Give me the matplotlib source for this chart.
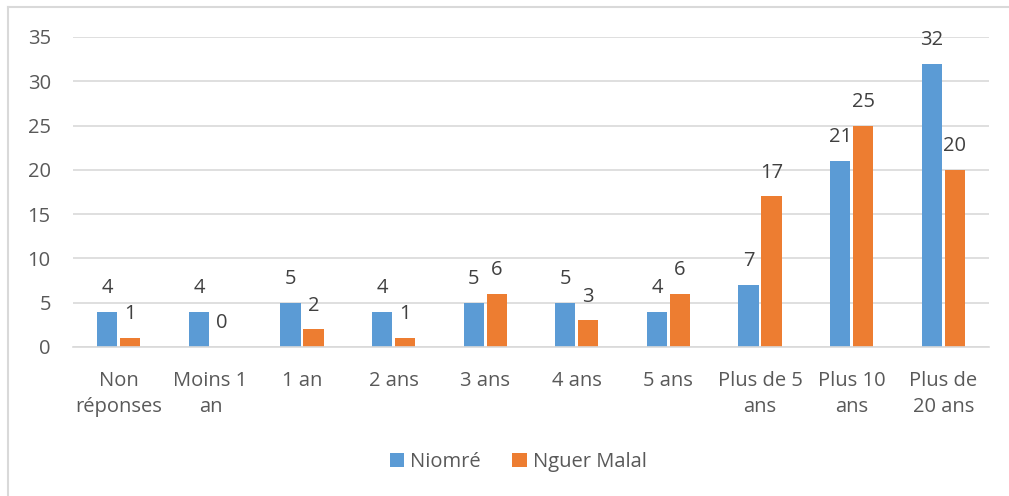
import numpy as np
import matplotlib.pyplot as plt
from matplotlib.lines import Line2D

categories = ["Non\nréponses", "Moins 1\nan", "1 an", "2 ans", "3 ans", "4 ans",
              "5 ans", "Plus de 5\nans", "Plus 10\nans", "Plus de\n20 ans"]
niomre = [4, 4, 5, 4, 5, 5, 4, 7, 21, 32]
nguer_malal = [1, 0, 2, 1, 6, 3, 6, 17, 25, 20]

blue = "#5B9BD5"
orange = "#ED7D31"
txt = "#595959"
grid = "#D9D9D9"
fs = 14.5

plt.rcParams['font.family'] = ['Open Sans', 'DejaVu Sans']

fig = plt.figure(figsize=(10.09, 4.96), dpi=100)
ax = fig.add_axes([73 / 1009, 1 - 347 / 496, (989 - 73) / 1009, (347 - 37) / 496])

x = np.arange(len(categories))
w = 0.22
b1 = ax.bar(x - 0.125, niomre, w, color=blue)
b2 = ax.bar(x + 0.125, nguer_malal, w, color=orange)

for bars, vals in ((b1, niomre), (b2, nguer_malal)):
    for r, v in zip(bars, vals):
        ax.text(r.get_x() + r.get_width() / 2, v + 1.55, str(v), ha='center', va='bottom',
                fontsize=fs, color="#404040")

ax.set_xlim(-0.5, len(categories) - 0.5)
ax.set_ylim(0, 35)
ax.set_yticks(range(0, 36, 5))
ax.set_xticks(x)
ax.set_xticklabels(categories, linespacing=1.4)
ax.tick_params(length=0, labelsize=fs, labelcolor=txt)
ax.tick_params(axis='x', pad=17)
ax.tick_params(axis='y', pad=16)
ax.yaxis.grid(True, color=grid, linewidth=1.2)
ax.set_axisbelow(True)
for s in ['top', 'right', 'left']:
    ax.spines[s].set_visible(False)
ax.spines['bottom'].set_color(grid)
ax.spines['bottom'].set_linewidth(1.2)

# chart frame (only top and left visible in the crop)
fig.add_artist(Line2D([8 / 1009, 8 / 1009], [0, 1 - 7 / 496], transform=fig.transFigure,
                      color=grid, linewidth=1.5))
fig.add_artist(Line2D([8 / 1009, 1], [1 - 7 / 496, 1 - 7 / 496], transform=fig.transFigure,
                      color=grid, linewidth=1.5))

fig.legend([b1, b2], ["Niomré", "Nguer Malal"], loc='center', bbox_to_anchor=(518 / 1009, 1 - 462 / 496),
           ncol=2, frameon=False, fontsize=fs, labelcolor=txt, handlelength=0.7, handleheight=0.7,
           handletextpad=0.3, columnspacing=1.6)

fig.savefig("out.png", dpi=100)
